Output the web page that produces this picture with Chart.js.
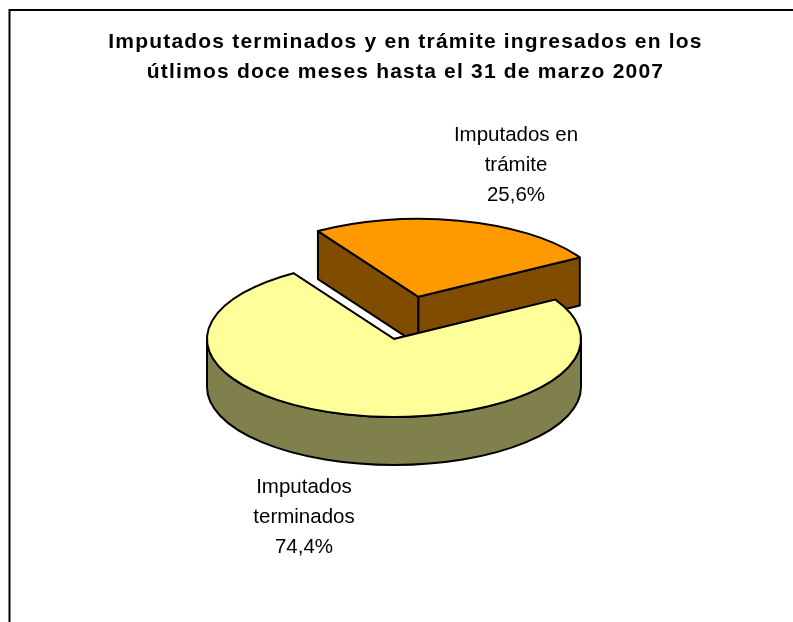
<!DOCTYPE html>
<html>
<head>
<meta charset="utf-8">
<title>Imputados</title>
<style>
  html, body { margin: 0; padding: 0; background: #fff; overflow: hidden; }
  canvas { display: block; }
</style>
<script src="https://cdn.jsdelivr.net/npm/chart.js@4/dist/chart.umd.min.js"></script>
</head>
<body>
<canvas id="pie" width="793" height="622"></canvas>
<script>
  // drawn back to front: the exploded slice has to go first
  var categories = ['Imputados en trámite', 'Imputados terminados'];
  var values = [25.6, 74.4];
  var titleLines = [
    'Imputados terminados y en trámite ingresados en los',
    'útlimos doce meses hasta el 31 de marzo 2007'
  ];
  var topColors = ['#FF9900', '#FFFF99'];
  var wallColors = ['#804D00', '#80804D'];
  var explode = [416, 0];          // Chart.js moves a slice by offset / 4
  var labelAnchors = [[516, 135], [304, 487]];

  // fake 3D view
  var PIE_X = 394, PIE_Y = 339, RADIUS = 187, SQUASH = 78 / 187, DEPTH = 48;

  function geom(arc) {
    var mid = (arc.startAngle + arc.endAngle) / 2;
    var off = (arc.options.offset || 0) / 4;
    return {
      cx: PIE_X + Math.cos(mid) * off,
      cy: PIE_Y + Math.sin(mid) * off * SQUASH,
      rx: arc.outerRadius,
      ry: arc.outerRadius * SQUASH,
      s: arc.startAngle,
      e: arc.endAngle
    };
  }

  function rim(g, a) {
    return [g.cx + Math.cos(a) * g.rx, g.cy + Math.sin(a) * g.ry];
  }

  var pie3d = {
    id: 'pie3d',
    beforeDraw: function (chart) {
      chart.ctx.letterSpacing = '1.2px';   // for the title
      var ctx = chart.ctx;
      ctx.save();
      ctx.strokeStyle = '#000';
      ctx.lineWidth = 2;
      ctx.beginPath();
      ctx.moveTo(9.5, 622);
      ctx.lineTo(9.5, 10);
      ctx.lineTo(793, 10);
      ctx.stroke();
      ctx.restore();
    },
    beforeDatasetsDraw: function (chart) {
      var ctx = chart.ctx;
      ctx.letterSpacing = '0px';
      ctx.save();
      ctx.strokeStyle = '#000';
      ctx.lineWidth = 2;
      ctx.lineJoin = 'round';
      chart.getDatasetMeta(0).data.forEach(function (arc, i) {
        var g = geom(arc);
        ctx.fillStyle = wallColors[i];
        [g.s, g.e].forEach(function (a) {
          var p = rim(g, a);
          ctx.beginPath();
          ctx.moveTo(g.cx, g.cy);
          ctx.lineTo(p[0], p[1]);
          ctx.lineTo(p[0], p[1] + DEPTH);
          ctx.lineTo(g.cx, g.cy + DEPTH);
          ctx.closePath();
          ctx.fill();
          ctx.stroke();
        });
        var a0 = Math.max(g.s, 0), a1 = Math.min(g.e, Math.PI);
        if (a1 > a0) {
          ctx.beginPath();
          ctx.ellipse(g.cx, g.cy, g.rx, g.ry, 0, a0, a1);
          ctx.ellipse(g.cx, g.cy + DEPTH, g.rx, g.ry, 0, a1, a0, true);
          ctx.closePath();
          ctx.fill();
          ctx.stroke();
        }
      });
      ctx.restore();
    },
    beforeDatasetDraw: function (chart, args) {
      var ctx = chart.ctx, arc = args.meta.data[0];
      ctx.save();
      ctx.translate(PIE_X, PIE_Y);
      ctx.scale(1, SQUASH);
      ctx.translate(-arc.x, -arc.y);
    },
    afterDatasetDraw: function (chart) {
      chart.ctx.restore();
    },
    afterDatasetsDraw: function (chart) {
      var ctx = chart.ctx;
      ctx.save();
      ctx.strokeStyle = '#000';
      ctx.lineWidth = 2;
      ctx.lineJoin = 'round';
      chart.getDatasetMeta(0).data.forEach(function (arc) {
        var g = geom(arc);
        ctx.beginPath();
        ctx.moveTo(g.cx, g.cy);
        ctx.ellipse(g.cx, g.cy, g.rx, g.ry, 0, g.s, g.e);
        ctx.closePath();
        ctx.stroke();
      });
      // data labels: last word of the name goes on its own line
      ctx.fillStyle = '#000';
      ctx.font = "20.5px 'Liberation Sans', Arial, sans-serif";
      ctx.textAlign = 'center';
      ctx.textBaseline = 'middle';
      ctx.letterSpacing = '0px';
      categories.forEach(function (name, i) {
        var cut = name.lastIndexOf(' ');
        var lines = [name.slice(0, cut), name.slice(cut + 1), values[i].toFixed(1).replace('.', ',') + '%'];
        lines.forEach(function (t, n) {
          ctx.fillText(t, labelAnchors[i][0], labelAnchors[i][1] + n * 30);
        });
      });
      ctx.restore();
    }
  };

  new Chart(document.getElementById('pie'), {
    type: 'pie',
    data: {
      labels: categories,
      datasets: [{
        data: values,
        backgroundColor: topColors,
        borderWidth: 0,
        offset: explode,
        clip: false
      }]
    },
    options: {
      responsive: false,
      animation: false,
      rotation: -32.5,
      radius: RADIUS,
      layout: { padding: { left: 18 } },
      events: [],
      plugins: {
        legend: { display: false },
        tooltip: { enabled: false },
        title: {
          display: true,
          text: titleLines,
          color: '#000',
          font: { family: "'Liberation Sans', Arial, sans-serif", size: 21, weight: 'bold', lineHeight: 30 / 21 },
          padding: { top: 27, bottom: 0 }
        }
      }
    },
    plugins: [pie3d]
  });
</script>
</body>
</html>
